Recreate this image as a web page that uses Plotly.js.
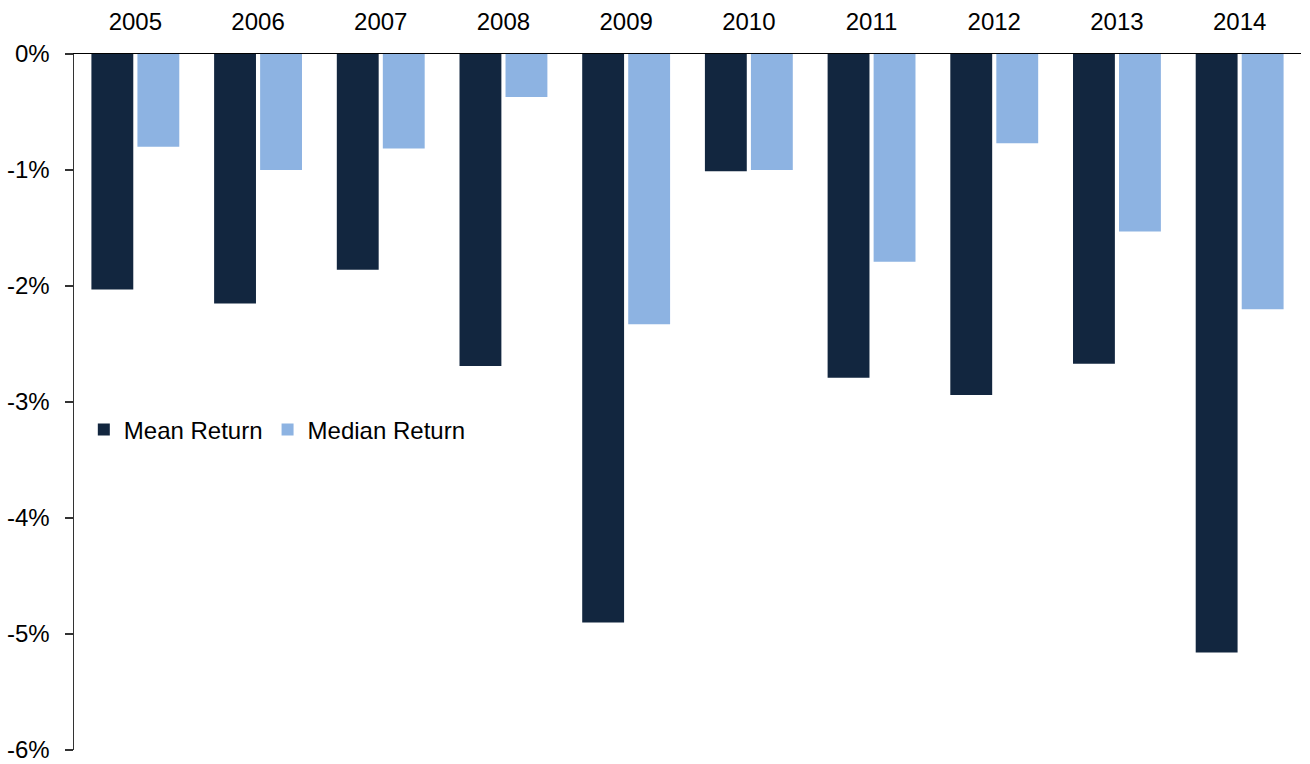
<!DOCTYPE html>
<html><head><meta charset="utf-8">
<script src="https://cdn.plot.ly/plotly-3.0.1.min.js"></script>
<style>html,body{margin:0;padding:0;background:#fff}#chart{width:1310px;height:764px}</style>
</head><body><div id="chart"></div>
<script>
const years = ["2005","2006","2007","2008","2009","2010","2011","2012","2013","2014"];
const meanReturn = [-2.03,-2.15,-1.86,-2.69,-4.90,-1.01,-2.79,-2.94,-2.67,-5.16];
const medianReturn = [-0.80,-1.00,-0.815,-0.37,-2.33,-1.00,-1.79,-0.77,-1.53,-2.20];
const yTicks = [0,-1,-2,-3,-4,-5,-6];
const yTickText = ["0%","-1%","-2%","-3%","-4%","-5%","-6%"];

const traces = [
  {type:"bar", name:"Mean Return", x:years, y:meanReturn, marker:{color:"#12263f"}},
  {type:"bar", name:"Median Return", x:years, y:medianReturn, marker:{color:"#8db3e2"}}
];
const layout = {
  width:1310, height:764,
  margin:{l:74, r:9, t:54, b:14},
  paper_bgcolor:"#fff", plot_bgcolor:"#fff",
  font:{family:"Liberation Sans, Arial, sans-serif", size:24, color:"#000"},
  barmode:"group", bargap:0.25, bargroupgap:0.09,
  showlegend:true,
  legend:{orientation:"h", x:0.008, y:0.46, xanchor:"left", yanchor:"middle",
          font:{size:24}, bgcolor:"rgba(0,0,0,0)", itemwidth:30, tracegroupgap:0},
  xaxis:{type:"category", side:"top", showline:true, linecolor:"#000", linewidth:1.5,
         ticks:"", showgrid:false, zeroline:false, tickfont:{size:24}, ticklabelstandoff:13},
  yaxis:{range:[-6,0], tickvals:yTicks, ticktext:yTickText, showgrid:false, zeroline:false,
         showline:true, linecolor:"#333", linewidth:1.5, ticks:"outside", ticklen:8,
         tickcolor:"#333", tickwidth:1.5, tickfont:{size:24}, ticklabelstandoff:10,
         ticklabeloverflow:"allow"}
};
Plotly.newPlot("chart", traces, layout, {displayModeBar:false, staticPlot:true});
</script></body></html>
